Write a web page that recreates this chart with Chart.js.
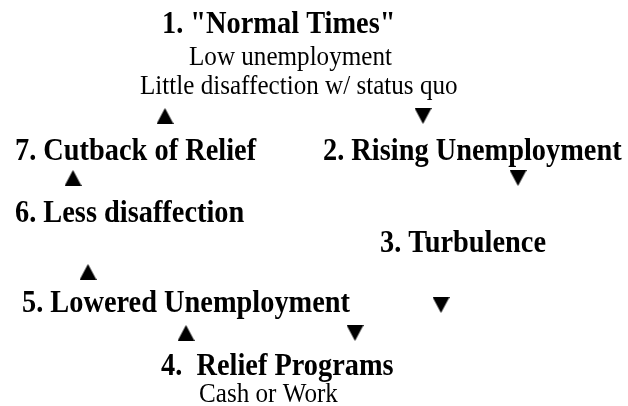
<!DOCTYPE html>
<html>
<head>
<meta charset="utf-8">
<script src="https://cdn.jsdelivr.net/npm/chart.js@4"></script>
<style>
  body { margin: 0; background: #fff; }
  #ciclo { display: block; }
</style>
</head>
<body>
<canvas id="ciclo" width="628" height="406"></canvas>
<script>
// Textos del diagrama (etapas del ciclo)
const etiquetas = ['1. "Normal Times"', 'Low unemployment', 'Little disaffection w/ status quo',
    '7. Cutback of Relief', '2. Rising Unemployment', '6. Less disaffection', '3. Turbulence',
    '5. Lowered Unemployment', '4.  Relief Programs', 'Cash or Work'];
const etiquetasX = [162, 189, 140, 15, 323, 15, 380, 22, 161, 199];
const etiquetasY = [33, 65, 94, 160, 160, 222, 252, 312, 375, 402];
const etiquetasNegrita = [true, false, false, true, true, true, true, true, true, false];

// Flechas entre etapas
const flechasX = [165, 423, 518, 73, 88, 441, 186, 355];
const flechasY = [116, 116, 178, 178, 272, 305, 333, 333];
const flechasDir = ['up', 'down', 'down', 'up', 'up', 'down', 'up', 'down'];

// Dibuja un triángulo en un canvas pequeño para usarlo como pointStyle
function crearTriangulo(dir) {
    const c = document.createElement('canvas');
    c.width = 17;
    c.height = 16;
    const g = c.getContext('2d');
    g.fillStyle = '#000';
    g.beginPath();
    if (dir === 'up') {
        g.moveTo(8.5, 0); g.lineTo(17, 16); g.lineTo(0, 16);
    } else {
        g.moveTo(0, 0); g.lineTo(17, 0); g.lineTo(8.5, 16);
    }
    g.closePath();
    g.fill();
    return c;
}
const trianguloArriba = crearTriangulo('up');
const trianguloAbajo = crearTriangulo('down');

// Plugin para escribir los textos usando las escalas del gráfico
// (la letra del original es algo estrecha, por eso se comprime en horizontal)
const textosPlugin = {
    id: 'textos',
    afterDatasetsDraw(chart) {
        const ctx = chart.ctx;
        const sx = chart.scales.x;
        const sy = chart.scales.y;
        etiquetas.forEach((txt, i) => {
            ctx.save();
            ctx.fillStyle = '#000';
            ctx.textAlign = 'left';
            ctx.textBaseline = 'alphabetic';
            ctx.font = etiquetasNegrita[i] ? 'bold 30.5px "Liberation Serif"' : '27px "Liberation Serif"';
            ctx.translate(sx.getPixelForValue(etiquetasX[i]), sy.getPixelForValue(etiquetasY[i]));
            ctx.scale(0.93, 1);
            ctx.fillText(txt, 0, 0);
            ctx.restore();
        });
    }
};

const puntos = flechasX.map((x, i) => ({ x: x, y: flechasY[i] }));

new Chart(document.getElementById('ciclo'), {
    type: 'scatter',
    data: {
        datasets: [{
            data: puntos,
            pointStyle: flechasDir.map(d => d === 'up' ? trianguloArriba : trianguloAbajo),
            pointRadius: 8,
            pointHoverRadius: 8
        }]
    },
    options: {
        responsive: false,
        animation: false,
        layout: { padding: 0, autoPadding: false },
        plugins: { legend: { display: false }, tooltip: { enabled: false } },
        scales: {
            x: { type: 'linear', min: 0, max: 628, display: false },
            y: { type: 'linear', min: 0, max: 406, reverse: true, display: false }
        }
    },
    plugins: [textosPlugin]
});
</script>
</body>
</html>
